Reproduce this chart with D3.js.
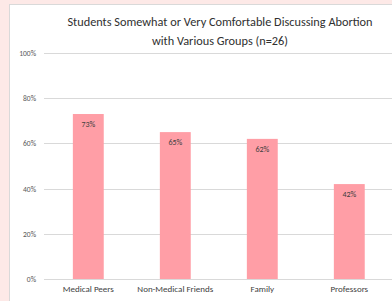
<!DOCTYPE html>
<html><head><meta charset="utf-8">
<script src="https://cdn.jsdelivr.net/npm/d3@7"></script>
<style>
html,body{margin:0;padding:0;background:#fde9e7;}
svg{display:block;}
</style></head>
<body>
<svg id="chart" width="392" height="301"></svg>
<script>
const titleLines = ["Students Somewhat or Very Comfortable Discussing Abortion", "with Various Groups (n=26)"];
const categories = ["Medical Peers", "Non-Medical Friends", "Family", "Professors"];
const values = [73, 65, 62, 42];
const yTicks = [0, 20, 40, 60, 80, 100];

const svg = d3.select("#chart");
const W = 392, H = 301;
const font = "Carlito, Lato, 'Open Sans', sans-serif";

// panel
svg.append("rect").attr("x", 9.5).attr("y", 4.5).attr("width", W).attr("height", H)
  .attr("fill", "#ffffff").attr("stroke", "#d9d9d9").attr("stroke-width", 1);

const x = d3.scaleBand().domain(categories).range([44.8, 392.8]).paddingInner(0.645).paddingOuter(0.3225);
const y = d3.scaleLinear().domain([0, 100]).range([279, 53]);

// gridlines
svg.append("g").selectAll("line").data(yTicks).join("line")
  .attr("x1", 44).attr("x2", 392)
  .attr("y1", d => Math.round(y(d)) + 0.5).attr("y2", d => Math.round(y(d)) + 0.5)
  .attr("stroke", "#d9d9d9").attr("stroke-width", 1);

// y axis labels
const yAxis = d3.axisLeft(y).tickValues(yTicks).tickFormat(d => d + "%").tickSize(0).tickPadding(0);
const gy = svg.append("g").attr("transform", "translate(36,0)").call(yAxis);
gy.select(".domain").remove();
gy.selectAll("text").attr("font-family", font).attr("font-size", 7.5).attr("fill", "#595959");

// bars
svg.append("g").selectAll("rect").data(values).join("rect")
  .attr("x", (d, i) => x(categories[i]))
  .attr("width", x.bandwidth())
  .attr("y", d => y(d))
  .attr("height", d => y(0) - y(d))
  .attr("fill", "#ff9ea6");

// data labels
svg.append("g").selectAll("text").data(values).join("text")
  .attr("x", (d, i) => x(categories[i]) + x.bandwidth() / 2)
  .attr("y", d => y(d) + 13)
  .attr("text-anchor", "middle")
  .attr("font-family", font).attr("font-size", 8).attr("fill", "#404040")
  .text(d => d + "%");

// x axis labels
const xAxis = d3.axisBottom(x).tickSize(0).tickPadding(0);
const gx = svg.append("g").attr("transform", "translate(0,286)").call(xAxis);
gx.select(".domain").remove();
gx.selectAll("text").attr("font-family", font).attr("font-size", 9).attr("fill", "#404040");

// title
svg.append("g").selectAll("text").data(titleLines).join("text")
  .attr("x", 220).attr("y", (d, i) => 26 + i * 19)
  .attr("text-anchor", "middle")
  .attr("font-family", font).attr("font-size", 12.3).attr("fill", "#303030")
  .text(d => d);
</script>
</body></html>
